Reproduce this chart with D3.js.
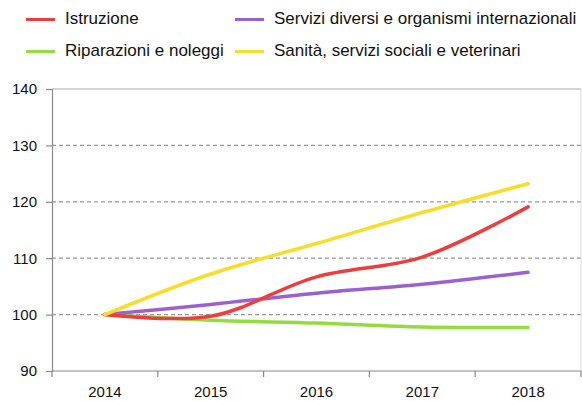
<!DOCTYPE html>
<html>
<head>
<meta charset="utf-8">
<script src="https://cdn.jsdelivr.net/npm/d3@7"></script>
<style>
  body { margin: 0; background: #fff; }
  svg { display: block; font-family: "Liberation Sans", Arial, sans-serif; }
</style>
</head>
<body>
<div id="chart"></div>
<script>
const width = 582;
const height = 401;

// data
const years = ["2014", "2015", "2016", "2017", "2018"];
const istruzione = [100, 99.7, 106.7, 110.2, 119.1];
const servizi = [100, 101.8, 103.8, 105.4, 107.5];
const riparazioni = [100, 99.0, 98.5, 97.8, 97.7];
const sanita = [100, 107.2, 112.6, 118.1, 123.2];
const yTicks = [90, 100, 110, 120, 130, 140];

const series = [
  { name: "Istruzione", values: istruzione, color: "#ee3d3d" },
  { name: "Servizi diversi e organismi internazionali", values: servizi, color: "#9b62cf" },
  { name: "Riparazioni e noleggi", values: riparazioni, color: "#92dc3e" },
  { name: "Sanità, servizi sociali e veterinari", values: sanita, color: "#f6de2a" }
];

const margin = { top: 89, right: 1, bottom: 30, left: 52 };

const svg = d3.select("#chart")
  .append("svg")
  .attr("width", width)
  .attr("height", height);

const x = d3.scaleBand()
  .domain(years)
  .range([margin.left, width - margin.right]);

const y = d3.scaleLinear()
  .domain([90, 140])
  .range([height - margin.bottom, margin.top]);

// gridlines
svg.append("g")
  .selectAll("line")
  .data(yTicks.filter(d => d > 90 && d < 140))
  .join("line")
  .attr("x1", margin.left)
  .attr("x2", width - margin.right)
  .attr("y1", d => y(d))
  .attr("y2", d => y(d))
  .attr("stroke", "#999")
  .attr("stroke-width", 1.2)
  .attr("stroke-dasharray", "4,3");

// top border and faint right border
svg.append("line")
  .attr("x1", margin.left).attr("x2", width - margin.right)
  .attr("y1", y(140)).attr("y2", y(140))
  .attr("stroke", "#aaa").attr("stroke-width", 1.2);

svg.append("line")
  .attr("x1", width - margin.right).attr("x2", width - margin.right)
  .attr("y1", y(140)).attr("y2", y(90))
  .attr("stroke", "#ddd").attr("stroke-width", 1);

// y axis
const yAxis = svg.append("g")
  .attr("transform", `translate(${margin.left},0)`)
  .call(d3.axisLeft(y).tickValues(yTicks).tickSize(6).tickPadding(9));
yAxis.select(".domain").attr("stroke", "#888").attr("stroke-width", 1.2);
yAxis.selectAll(".tick line").attr("stroke", "#888").attr("stroke-width", 1.2);
yAxis.selectAll("text").attr("font-size", 15).attr("fill", "#111").attr("font-family", "Liberation Sans, Arial, sans-serif");

// x axis (ticks at band edges)
const xAxisG = svg.append("g")
  .attr("transform", `translate(0,${y(90)})`);
xAxisG.append("line")
  .attr("x1", margin.left).attr("x2", width - margin.right)
  .attr("stroke", "#888").attr("stroke-width", 1.2);
const edges = years.map(d => x(d)).concat([x(years[years.length - 1]) + x.bandwidth()]);
xAxisG.selectAll(".edge")
  .data(edges)
  .join("line")
  .attr("class", "edge")
  .attr("x1", d => d).attr("x2", d => d)
  .attr("y1", 0).attr("y2", 6)
  .attr("stroke", "#888").attr("stroke-width", 1.2);
xAxisG.selectAll("text")
  .data(years)
  .join("text")
  .attr("x", d => x(d) + x.bandwidth() / 2)
  .attr("y", 26)
  .attr("text-anchor", "middle")
  .attr("font-size", 15)
  .attr("fill", "#111")
  .text(d => d);

// lines
const line = d3.line()
  .x((d, i) => x(years[i]) + x.bandwidth() / 2)
  .y(d => y(d))
  .curve(d3.curveCatmullRom.alpha(0.5));

const drawOrder = [series[2], series[1], series[0], series[3]];
svg.append("g")
  .selectAll("path")
  .data(drawOrder)
  .join("path")
  .attr("fill", "none")
  .attr("stroke", d => d.color)
  .attr("stroke-width", 3.5)
  .attr("stroke-linecap", "round")
  .attr("d", d => line(d.values));

// legend
const legendPos = [
  { x: 26, y: 18.5 }, { x: 235, y: 18.5 },
  { x: 26, y: 50.5 }, { x: 235, y: 50.5 }
];
const legend = svg.append("g")
  .selectAll("g")
  .data(series)
  .join("g")
  .attr("transform", (d, i) => `translate(${legendPos[i].x},${legendPos[i].y})`);
legend.append("line")
  .attr("x1", 0).attr("x2", 29)
  .attr("y1", 1).attr("y2", 1)
  .attr("stroke", d => d.color)
  .attr("stroke-width", 3);
legend.append("text")
  .attr("x", 39)
  .attr("dy", "0.35em")
  .attr("font-size", 17)
  .attr("fill", "#111")
  .text(d => d.name);
</script>
</body>
</html>
